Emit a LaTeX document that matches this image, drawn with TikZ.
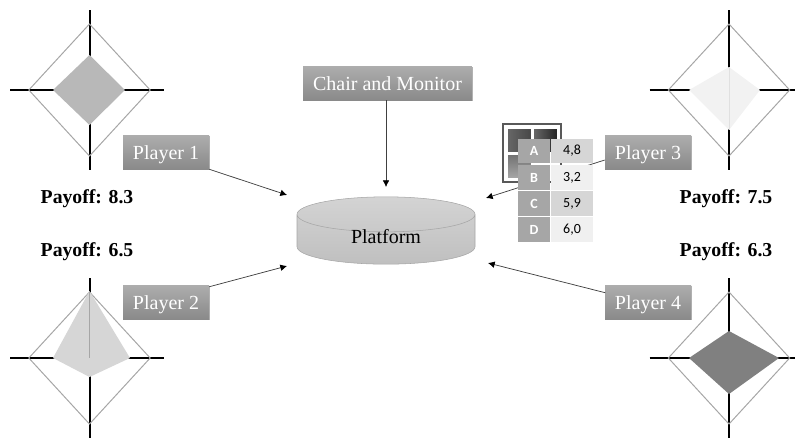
\documentclass[tikz,border=0pt]{standalone}
\usepackage{fontspec}
\setmainfont{Liberation Serif}
\newfontfamily\tablefont{Carlito}
\usetikzlibrary{shapes.geometric,shadows,arrows.meta}
\definecolor{axisgris}{HTML}{A6A6A6}
\definecolor{boxhaut}{HTML}{ADADAD}
\definecolor{boxbas}{HTML}{8A8A8A}
\tikzset{playerbox/.style={
    rectangle,
    top color=boxhaut,
    bottom color=boxbas,
    text=white,
    font=\fontsize{15}{18}\selectfont,
    text height=12pt,
    text depth=1.5pt,
    minimum width=64.5pt,
    minimum height=25.5pt,
    inner sep=0pt,
    drop shadow={shadow xshift=0.8pt,shadow yshift=-1pt,opacity=0.3,fill=black}}}
\tikzset{payoff/.style={
    font=\fontsize{14.8}{17}\selectfont\bfseries,
    inner sep=0pt}}
\tikzset{link/.style={
    draw=black!75,
    line width=0.55pt,
    -{Latex[length=5pt,width=5pt,color=black]}}}
\tikzset{radaraxis/.style={
    draw=black,
    line width=1.5pt}}
\tikzset{radarframe/.style={
    draw=axisgris,
    line width=0.75pt}}
\tikzset{keycell/.style={
    fill=axisgris,
    text=white,
    font=\tablefont\fontsize{10.5}{12}\selectfont\bfseries,
    minimum width=24pt,
    minimum height=18.6pt,
    inner sep=0pt}}
\tikzset{valcell/.style={
    text=black,
    font=\tablefont\fontsize{10.5}{12}\selectfont,
    minimum width=31.5pt,
    minimum height=18.6pt,
    inner sep=0pt}}
\tikzset{pane/.style={
    minimum width=17pt,
    minimum height=17pt,
    inner sep=0pt}}

\begin{document}
\begin{tikzpicture}[x=0.75pt,y=-0.75pt]
\useasboundingbox (0,0) rectangle (795,437);
\clip (0,0) rectangle (795,437);
\coordinate (R1) at (89.5,90);
\coordinate (R2) at (89.5,358);
\coordinate (R3) at (729,90);
\coordinate (R4) at (729,358);

% radar charts
\foreach \r in {R1,R2,R3,R4} {
	\draw[radaraxis] ([xshift=-59.5pt]\r) -- ([xshift=56pt]\r);
	\draw[radaraxis] ([yshift=60pt]\r) -- ([yshift=-60pt]\r);
	\draw[radarframe] ([yshift=49.5pt]\r) -- ([xshift=45.5pt]\r) -- ([yshift=-49.5pt]\r) -- ([xshift=-45.5pt]\r) -- cycle;
}
\fill[black!28] (89.5,55) -- (125,90) -- (89.5,125) -- (53,90) -- cycle;
\fill[black!16] (89.5,291) -- (130,358) -- (89.5,377) -- (53,358) -- cycle;
\draw[axisgris,line width=0.5pt] (89.5,291) -- (R2);
\fill[black!5] (729,67) -- (760,90) -- (729,130) -- (689,90) -- cycle;
\draw[black!12,line width=0.5pt] (729,67) -- (729,130);
\fill[black!50] (729,331) -- (779,358) -- (729,394) -- (689,358) -- cycle;

% players
\node[playerbox] (player1) at (166,152) {Player 1};
\node[playerbox] (player2) at (166,302) {Player 2};
\node[playerbox] (player3) at (648,152) {Player 3};
\node[playerbox] (player4) at (648,302) {Player 4};
\node[playerbox,minimum width=126.5pt] (chair) at (387.5,83) {Chair and Monitor};

\node[payoff] (pay1) at (87,199) {Payoff: 8.3};
\node[payoff] (pay2) at (87,252) {Payoff: 6.5};
\node[payoff] (pay3) at (726,198.5) {Payoff: 7.5};
\node[payoff] (pay4) at (726,252) {Payoff: 6.3};

% platform
\node[cylinder,shape border rotate=90,aspect=0.5,draw=axisgris,top color=black!17,bottom color=black!25,
	minimum width=133.5pt,minimum height=50.5pt,inner sep=0pt,anchor=shape center,
	font=\fontsize{15}{18}\selectfont] (platform) at (386,230.5) {\raisebox{2.2pt}[\height][\depth]{Platform}};

\coordinate (in1) at (287,195);
\coordinate (in2) at (287,266);
\coordinate (in3) at (486,198);
\coordinate (in4) at (488,263);
\coordinate (inchair) at (386,187);
\draw[link] (player1.south east) -- (in1);
\draw[link] (player2.north east) ++(0,2) -- (in2);
\draw[link] (player3.west) ++(0,8) -- (in3);
\draw[link] (player4.north east) ++(-86,8) -- (in4);
\draw[link] (chair.south) ++(-1.5,0) -- (inchair);

% table
\node[draw=black!65,line width=1.5pt,fill=white,minimum width=44pt,minimum height=44pt,inner sep=0pt] (icon) at (532,153) {};
\node[pane,left color=black!60,right color=black!72] (paneA) at (519.5,140.5) {};
\node[pane,left color=black!60,right color=black!85] (paneB) at (545.5,140.5) {};
\node[pane,top color=black!55,bottom color=black!35] (paneC) at (519.5,166.5) {};
\foreach \k/\v/\y/\f in {A/{4,8}/151/16,B/{3,2}/177.5/6,C/{5,9}/203.5/16,D/{6,0}/229.5/6} {
	\node[keycell] (key\k) at (534,\y) {\k\hspace{4pt}};
	\node[valcell,fill=black!\f] (val\k) at (572,\y) {\v\hspace{6pt}};
}
\end{tikzpicture}
\end{document}
